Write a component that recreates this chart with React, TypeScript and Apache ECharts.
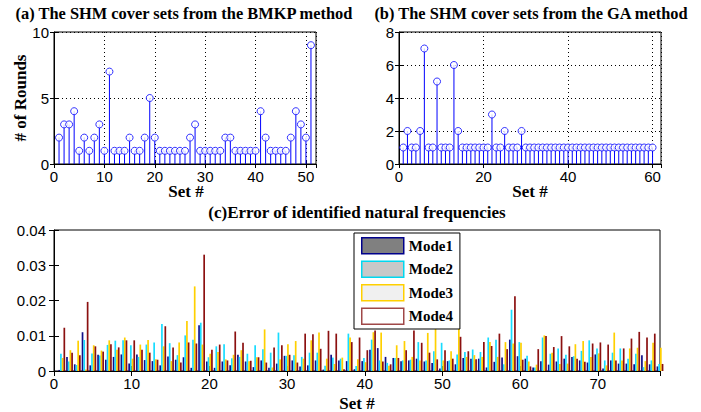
import React, { useEffect, useRef } from 'react';
import * as echarts from 'echarts';

// (a) BMKP method: rounds per cover set (sets 1..51)
const bmkpRounds = [2, 3, 3, 4, 1, 2, 1, 2, 3, 1, 7, 1, 1, 1, 2, 1, 1, 2, 5, 2, 1, 1, 1, 1, 1, 1, 2, 3, 1, 1, 1, 1, 1, 2, 2, 1, 1, 1, 1, 1, 4, 2, 1, 1, 1, 1, 2, 4, 3, 2, 9];
// (b) GA method: rounds per cover set (sets 1..60)
const gaRounds = [1, 2, 1, 1, 2, 7, 1, 1, 5, 1, 1, 1, 6, 2, 1, 1, 1, 1, 1, 1, 1, 3, 1, 1, 2, 1, 1, 1, 2, 1, 1, 1, 1, 1, 1, 1, 1, 1, 1, 1, 1, 1, 1, 1, 1, 1, 1, 1, 1, 1, 1, 1, 1, 1, 1, 1, 1, 1, 1, 1];

// (c) errors of identified natural frequencies, sets 1..78
const modeNames = ['Mode1', 'Mode2', 'Mode3', 'Mode4'];
const mode1 = [0.0003, 0.0040, 0.0019, 0.0110, 0.0016, 0.0046, 0.0032, 0.0040, 0.0047, 0.0021, 0.0047, 0.0031, 0.0028, 0.0016, 0.0041, 0.0032, 0.0039, 0.0009, 0.0130, 0.0027, 0.0009, 0.0027, 0.0016, 0.0046, 0.0027, 0.0011, 0.0030, 0.0009, 0.0021, 0.0043, 0.0030, 0.0013, 0.0016, 0.0030, 0.0004, 0.0046, 0.0030, 0.0028, 0.0005, 0.0028, 0.0060, 0.0065, 0.0040, 0.0037, 0.0028, 0.0030, 0.0035, 0.0027, 0.0023, 0.0007, 0.0028, 0.0019, 0.0037, 0.0035, 0.0035, 0.0010, 0.0026, 0.0038, 0.0089, 0.0042, 0.0035, 0.0010, 0.0028, 0.0018, 0.0027, 0.0035, 0.0040, 0.0030, 0.0024, 0.0047, 0.0007, 0.0030, 0.0021, 0.0021, 0.0019, 0.0045, 0.0019, 0.0013];
const mode2 = [0.0049, 0.0027, 0.0017, 0.0088, 0.0050, 0.0044, 0.0074, 0.0086, 0.0087, 0.0073, 0.0040, 0.0075, 0.0081, 0.0133, 0.0079, 0.0045, 0.0101, 0.0089, 0.0137, 0.0039, 0.0070, 0.0076, 0.0036, 0.0040, 0.0049, 0.0073, 0.0062, 0.0052, 0.0109, 0.0043, 0.0045, 0.0040, 0.0052, 0.0052, 0.0015, 0.0038, 0.0035, 0.0106, 0.0014, 0.0037, 0.0089, 0.0030, 0.0023, 0.0037, 0.0030, 0.0032, 0.0082, 0.0030, 0.0056, 0.0080, 0.0030, 0.0047, 0.0054, 0.0061, 0.0054, 0.0095, 0.0089, 0.0019, 0.0174, 0.0082, 0.0043, 0.0010, 0.0095, 0.0049, 0.0064, 0.0046, 0.0042, 0.0057, 0.0087, 0.0064, 0.0030, 0.0052, 0.0064, 0.0035, 0.0049, 0.0011, 0.0030, 0.0020];
const mode3 = [0.0037, 0.0059, 0.0086, 0.0004, 0.0073, 0.0058, 0.0087, 0.0060, 0.0095, 0.0035, 0.0075, 0.0088, 0.0033, 0.0070, 0.0028, 0.0081, 0.0142, 0.0240, 0.0075, 0.0049, 0.0054, 0.0033, 0.0046, 0.0059, 0.0028, 0.0039, 0.0118, 0.0010, 0.0033, 0.0076, 0.0085, 0.0035, 0.0087, 0.0109, 0.0035, 0.0020, 0.0038, 0.0095, 0.0033, 0.0025, 0.0110, 0.0109, 0.0015, 0.0073, 0.0085, 0.0040, 0.0030, 0.0108, 0.0132, 0.0030, 0.0056, 0.0158, 0.0040, 0.0045, 0.0040, 0.0082, 0.0040, 0.0082, 0.0078, 0.0080, 0.0027, 0.0018, 0.0101, 0.0052, 0.0020, 0.0021, 0.0076, 0.0085, 0.0040, 0.0050, 0.0016, 0.0109, 0.0030, 0.0064, 0.0066, 0.0028, 0.0080, 0.0066];
const mode4 = [0.0123, 0.0052, 0.0045, 0.0196, 0.0070, 0.0055, 0.0076, 0.0067, 0.0087, 0.0087, 0.0060, 0.0052, 0.0032, 0.0127, 0.0067, 0.0024, 0.0081, 0.0078, 0.0330, 0.0060, 0.0075, 0.0030, 0.0112, 0.0080, 0.0029, 0.0039, 0.0024, 0.0067, 0.0073, 0.0046, 0.0024, 0.0106, 0.0104, 0.0063, 0.0114, 0.0106, 0.0005, 0.0082, 0.0095, 0.0059, 0.0115, 0.0027, 0.0019, 0.0037, 0.0059, 0.0115, 0.0080, 0.0052, 0.0033, 0.0059, 0.0035, 0.0097, 0.0056, 0.0033, 0.0082, 0.0071, 0.0106, 0.0062, 0.0212, 0.0032, 0.0013, 0.0062, 0.0099, 0.0068, 0.0099, 0.0070, 0.0035, 0.0026, 0.0078, 0.0081, 0.0075, 0.0030, 0.0064, 0.0092, 0.0111, 0.0095, 0.0106, 0.0020];

const modeData = [mode1, mode2, mode3, mode4];
const barColors = ['#10108a', '#18dcff', '#ffd000', '#8b1010'];
const legendFill = ['#808080', '#c8c8c8', '#f0f0f0', '#ffffff'];
const legendEdge = ['#00008b', '#00d8f0', '#ffd000', '#a04848'];

const STEM = '#0000ff';
const SANS = 'Liberation Sans';
const SERIF = 'Liberation Serif';
const TICK_FONT = 15;

function primaryX(gridIndex: number, max: number, interval: number, grid: boolean, tickLen: number) {
  return {
    type: 'value', gridIndex, min: 0, max, interval, position: 'bottom',
    axisLine: { show: true, lineStyle: { color: '#000', width: 1 } },
    axisTick: { show: true, inside: true, length: tickLen, lineStyle: { color: '#000' } },
    axisLabel: { color: '#000', fontFamily: SANS, fontSize: TICK_FONT, margin: 5, showMaxLabel: false },
    splitLine: grid ? { show: true, lineStyle: { color: '#000', type: [1, 3], width: 1 } } : { show: false },
  };
}
function secondaryX(gridIndex: number, max: number, interval: number, tickLen: number) {
  return {
    type: 'value', gridIndex, min: 0, max, interval, position: 'top',
    axisLine: { show: false },
    axisTick: { show: true, inside: true, length: tickLen, lineStyle: { color: '#000' } },
    axisLabel: { show: false }, splitLine: { show: false },
  };
}
function primaryY(gridIndex: number, max: number, interval: number, grid: boolean, tickLen: number, margin: number) {
  return {
    type: 'value', gridIndex, min: 0, max, interval, position: 'left',
    axisLine: { show: true, lineStyle: { color: '#000', width: 1 } },
    axisTick: { show: true, inside: true, length: tickLen, lineStyle: { color: '#000' } },
    axisLabel: { color: '#000', fontFamily: SANS, fontSize: TICK_FONT, margin },
    splitLine: grid ? { show: true, lineStyle: { color: '#000', type: [1, 3], width: 1 } } : { show: false },
  };
}
function secondaryY(gridIndex: number, max: number, interval: number, tickLen: number) {
  return {
    type: 'value', gridIndex, min: 0, max, interval, position: 'right',
    axisLine: { show: false },
    axisTick: { show: true, inside: true, length: tickLen, lineStyle: { color: '#000' } },
    axisLabel: { show: false }, splitLine: { show: false },
  };
}

function stemSeries(values: number[], xi: number, yi: number) {
  const pts = values.map((v, i) => [i + 1, v]);
  return [
    {
      type: 'bar', xAxisIndex: xi, yAxisIndex: yi, data: pts, barWidth: 1,
      itemStyle: { color: STEM }, silent: true, z: 2,
    },
    {
      type: 'scatter', xAxisIndex: xi, yAxisIndex: yi, data: pts, symbol: 'circle', symbolSize: 7,
      itemStyle: { color: '#ffffff', borderColor: STEM, borderWidth: 1 }, silent: true, z: 3,
    },
  ];
}

function textEl(text: string, x: number, y: number, size: number, rotation = 0) {
  return {
    type: 'text', x, y, rotation,
    style: {
      text, fontFamily: SERIF, fontWeight: 'bold', fontSize: size, fill: '#000',
      textAlign: 'center', textVerticalAlign: 'middle',
    },
  };
}

export default function App() {
  const ref = useRef<HTMLDivElement>(null);
  useEffect(() => {
    if (!ref.current) return;
    const chart = echarts.init(ref.current, undefined, { renderer: 'svg' });
    const sets = mode1.map((_, i) => i + 1);
    const barSeries = modeNames.map((name, m) => ({
      name, type: 'bar', xAxisIndex: 4, yAxisIndex: 4,
      data: sets.map((s, i) => [s, modeData[m][i]]),
      barWidth: 1.7, barGap: '0%',
      itemStyle: { color: barColors[m] },
    }));
    const option: any = {
      animation: false,
      backgroundColor: '#ffffff',
      grid: [
        { left: 54, top: 32, width: 262, height: 132, show: true, borderColor: '#000', borderWidth: 1, backgroundColor: 'transparent' },
        { left: 399, top: 32, width: 262, height: 132, show: true, borderColor: '#000', borderWidth: 1, backgroundColor: 'transparent' },
        { left: 54, top: 230, width: 606, height: 141, show: true, borderColor: '#000', borderWidth: 1, backgroundColor: 'transparent' },
      ],
      xAxis: [
        primaryX(0, 52, 10, true, 4), secondaryX(0, 52, 10, 4),
        primaryX(1, 62, 20, true, 4), secondaryX(1, 62, 20, 4),
        primaryX(2, 78, 10, false, 5), secondaryX(2, 78, 10, 5),
      ],
      yAxis: [
        primaryY(0, 10, 5, true, 4, 5), secondaryY(0, 10, 5, 4),
        primaryY(1, 8, 2, true, 4, 5), secondaryY(1, 8, 2, 4),
        primaryY(2, 0.04, 0.01, false, 5, 8), secondaryY(2, 0.04, 0.01, 5),
      ],
      legend: {
        orient: 'vertical', left: 354, top: 233, icon: 'rect',
        itemWidth: 42, itemHeight: 16, itemGap: 6,
        padding: [4, 7, 4, 7],
        backgroundColor: '#ffffff', borderColor: '#000', borderWidth: 1,
        textStyle: { fontFamily: SERIF, fontWeight: 'bold', fontSize: 15, color: '#000' },
        data: modeNames.map((n, i) => ({
          name: n,
          itemStyle: { color: legendFill[i], borderColor: legendEdge[i], borderWidth: 1.5 },
        })),
      },
      series: [
        ...stemSeries(bmkpRounds, 0, 0),
        ...stemSeries(gaRounds, 2, 2),
        ...barSeries,
      ],
      graphic: [
        textEl('(a) The SHM cover sets from the BMKP method', 184, 13, 16.4),
        textEl('(b) The SHM cover sets from the GA method', 531, 13, 16.4),
        textEl('Set #', 186, 191, 17),
        textEl('Set #', 530, 191, 17),
        textEl('# of Rounds', 20, 98, 17, Math.PI / 2),
        textEl('(c)Error of identified natural frequencies', 357, 212, 17),
        textEl('Set #', 357, 403, 17),
      ],
    };
    chart.setOption(option);
    return () => chart.dispose();
  }, []);
  return <div ref={ref} style={{ position: 'fixed', left: 0, top: 0, width: 701, height: 412 }} />;
}
